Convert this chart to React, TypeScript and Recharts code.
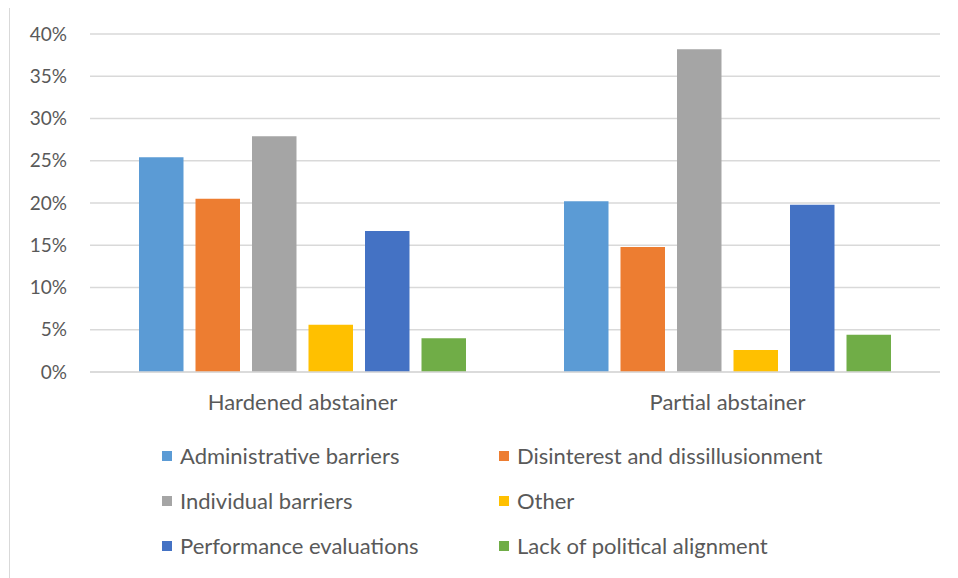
import React from 'react';
import { BarChart, Bar, XAxis, YAxis, CartesianGrid, Legend } from 'recharts';

// Abstainer groups on the category axis
const groups = ['Hardened abstainer', 'Partial abstainer'];

// Share of respondents (%) citing each reason
const administrativeBarriers = [25.4, 20.2];
const disinterest = [20.5, 14.8];
const individualBarriers = [27.9, 38.2];
const other = [5.6, 2.6];
const performanceEvaluations = [16.7, 19.8];
const politicalAlignment = [4.0, 4.4];

const seriesNames = [
  'Administrative barriers',
  'Disinterest and dissillusionment',
  'Individual barriers',
  'Other',
  'Performance evaluations',
  'Lack of political alignment',
];
const seriesColors = ['#5B9BD5', '#ED7D31', '#A5A5A5', '#FFC000', '#4472C4', '#70AD47'];
const seriesValues = [
  administrativeBarriers,
  disinterest,
  individualBarriers,
  other,
  performanceEvaluations,
  politicalAlignment,
];

const yTicks = [0, 5, 10, 15, 20, 25, 30, 35, 40];

const data = groups.map((group, i) => {
  const row: Record<string, string | number> = { group };
  seriesNames.forEach((name, s) => {
    row[name] = seriesValues[s][i];
  });
  return row;
});

const FONT = 'Lato, "Open Sans", sans-serif';
const TEXT = '#595959';

// Two-column legend, kept in series order
function LegendGrid(props: any) {
  const payload = [...(props.payload || [])].sort(
    (a: any, b: any) => seriesNames.indexOf(a.value) - seriesNames.indexOf(b.value)
  );
  return (
    <div
      style={{
        display: 'grid',
        gridTemplateColumns: '337px 337px',
        fontFamily: FONT,
        fontSize: 22,
        color: TEXT,
      }}
    >
      {payload.map((item: any) => (
        <div key={item.value} style={{ display: 'flex', alignItems: 'center', height: 45 }}>
          <span
            style={{ width: 10, height: 10, background: item.color, marginRight: 8, flex: 'none' }}
          />
          <span style={{ whiteSpace: 'nowrap' }}>{item.value}</span>
        </div>
      ))}
    </div>
  );
}

export default function App() {
  return (
    <div
      style={{
        position: 'relative',
        width: 950,
        height: 573,
        marginTop: -3,
        overflow: 'hidden',
        background: '#fff',
      }}
    >
      <div
        style={{
          position: 'absolute',
          left: 1,
          top: 0,
          width: 1000,
          height: 1000,
          border: '1px solid #D9D9D9',
        }}
      />
      <div style={{ position: 'absolute', left: 0, top: 3 }}>
        <BarChart
          width={950}
          height={570}
          data={data}
          margin={{ top: 26, right: 18, bottom: 176, left: 0 }}
          barSize={44.5}
          barGap={12}
        >
          <CartesianGrid vertical={false} stroke="#D9D9D9" strokeWidth={1.5} />
          <XAxis
            dataKey="group"
            height={30}
            axisLine={{ stroke: '#D9D9D9', strokeWidth: 1.5 }}
            tickLine={false}
            tickSize={0}
            tickMargin={22}
            tick={{ fill: TEXT, fontSize: 22, fontFamily: FONT }}
          />
          <YAxis
            width={82}
            domain={[0, 40]}
            ticks={yTicks}
            interval={0}
            axisLine={false}
            tickLine={false}
            tickSize={0}
            tickMargin={23}
            tickFormatter={(v: number) => `${v}%`}
            tick={{ fill: TEXT, fontSize: 19, fontFamily: FONT }}
          />
          {seriesNames.map((name, s) => (
            <Bar key={name} dataKey={name} fill={seriesColors[s]} isAnimationActive={false} />
          ))}
          <Legend
            layout="horizontal"
            align="center"
            verticalAlign="middle"
            content={<LegendGrid />}
            wrapperStyle={{ top: 425, left: 154, width: 700 }}
          />
        </BarChart>
      </div>
    </div>
  );
}
